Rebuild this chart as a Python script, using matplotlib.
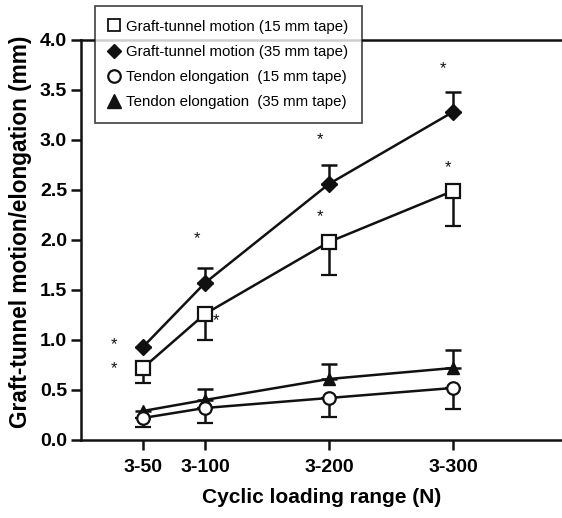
import matplotlib
matplotlib.use("Agg")
import matplotlib.pyplot as plt
import numpy as np
from matplotlib.lines import Line2D

plt.rcParams['font.family'] = ['Liberation Sans', 'DejaVu Sans']

loads = [50, 100, 200, 300]
tick_labels = ["3-50", "3-100", "3-200", "3-300"]

graft15 = [0.72, 1.26, 1.98, 2.49]
graft15_err_low = [0.15, 0.26, 0.33, 0.35]
graft35 = [0.93, 1.57, 2.56, 3.28]
graft35_err_up = [np.nan, 0.15, 0.19, 0.20]
tendon15 = [0.22, 0.32, 0.42, 0.52]
tendon15_err_low = [0.09, 0.15, 0.19, 0.21]
tendon35 = [0.29, 0.40, 0.61, 0.72]
tendon35_err_up = [np.nan, 0.11, 0.15, 0.18]

star_x = [27, 27, 94, 109, 193, 193, 292, 296]
star_y = [0.95, 0.71, 2.01, 1.19, 3.00, 2.23, 3.71, 2.72]

labels = ["Graft-tunnel motion (15 mm tape)",
          "Graft-tunnel motion (35 mm tape)",
          "Tendon elongation  (15 mm tape)",
          "Tendon elongation  (35 mm tape)"]

fig = plt.figure(figsize=(5.62, 5.18), dpi=100)
ax = fig.add_axes([0.144, 0.1506, 0.856, 0.7722])

lw = 1.8
ekw = dict(elinewidth=lw, capsize=6, capthick=lw, ecolor='#111111')
zeros = [0.0] * len(loads)

ax.errorbar(loads, graft35, yerr=[zeros, graft35_err_up], color='#111111', lw=lw,
            marker='D', ms=8, mfc='#111111', mec='#111111', zorder=3, **ekw)
ax.errorbar(loads, graft15, yerr=[graft15_err_low, zeros], color='#111111', lw=lw,
            marker='s', ms=10, mfc='white', mec='#111111', mew=1.6, zorder=3, **ekw)
ax.errorbar(loads, tendon35, yerr=[zeros, tendon35_err_up], color='#111111', lw=lw,
            marker='^', ms=9, mfc='#111111', mec='#111111', zorder=3, **ekw)
ax.errorbar(loads, tendon15, yerr=[tendon15_err_low, zeros], color='#111111', lw=lw,
            marker='o', ms=9, mfc='white', mec='#111111', mew=1.6, zorder=3, **ekw)

for sx, sy in zip(star_x, star_y):
    ax.text(sx, sy, "*", ha='center', va='center', fontsize=12, color='#111111')

ax.set_xlim(0, 388)
ax.set_ylim(0, 4.0)
ax.set_xticks(loads)
ax.set_xticklabels(tick_labels)
yt = np.arange(0, 4.01, 0.5)
ax.set_yticks(yt)
ax.set_yticklabels([f"{v:.1f}" for v in yt])
for lab in ax.get_xticklabels() + ax.get_yticklabels():
    lab.set_fontweight('bold')
    lab.set_fontsize(14)
ax.tick_params(axis='both', direction='out', length=7, width=1.8, color='#111111', pad=3)
ax.tick_params(axis='x', pad=7)
ax.spines['right'].set_visible(False)
for s in ['left', 'bottom', 'top']:
    ax.spines[s].set_linewidth(1.8)
    ax.spines[s].set_color('#111111')

ax.set_xlabel("Cyclic loading range (N)", fontsize=15, fontweight='bold', labelpad=8)
ax.set_ylabel("Graft-tunnel motion/elongation (mm)", fontsize=16.3, fontweight='bold')
ax.yaxis.set_label_coords(-0.102, 0.52)

leg_handles = [
    Line2D([], [], ls='none', marker='s', ms=9, mfc='white', mec='#111111', mew=1.3),
    Line2D([], [], ls='none', marker='D', ms=7, mfc='#111111', mec='#111111'),
    Line2D([], [], ls='none', marker='o', ms=9, mfc='white', mec='#111111', mew=1.6),
    Line2D([], [], ls='none', marker='^', ms=10, mfc='#111111', mec='#111111'),
]
leg = fig.legend(leg_handles, labels, loc='upper left', bbox_to_anchor=(0.169, 0.988),
                 borderaxespad=0, fontsize=10.8, frameon=True, fancybox=False, edgecolor='#111111',
                 handlelength=0.8, handletextpad=0.4, borderpad=0.9, labelspacing=0.75)
leg.get_frame().set_linewidth(1.2)

fig.savefig("out.png", dpi=100)
